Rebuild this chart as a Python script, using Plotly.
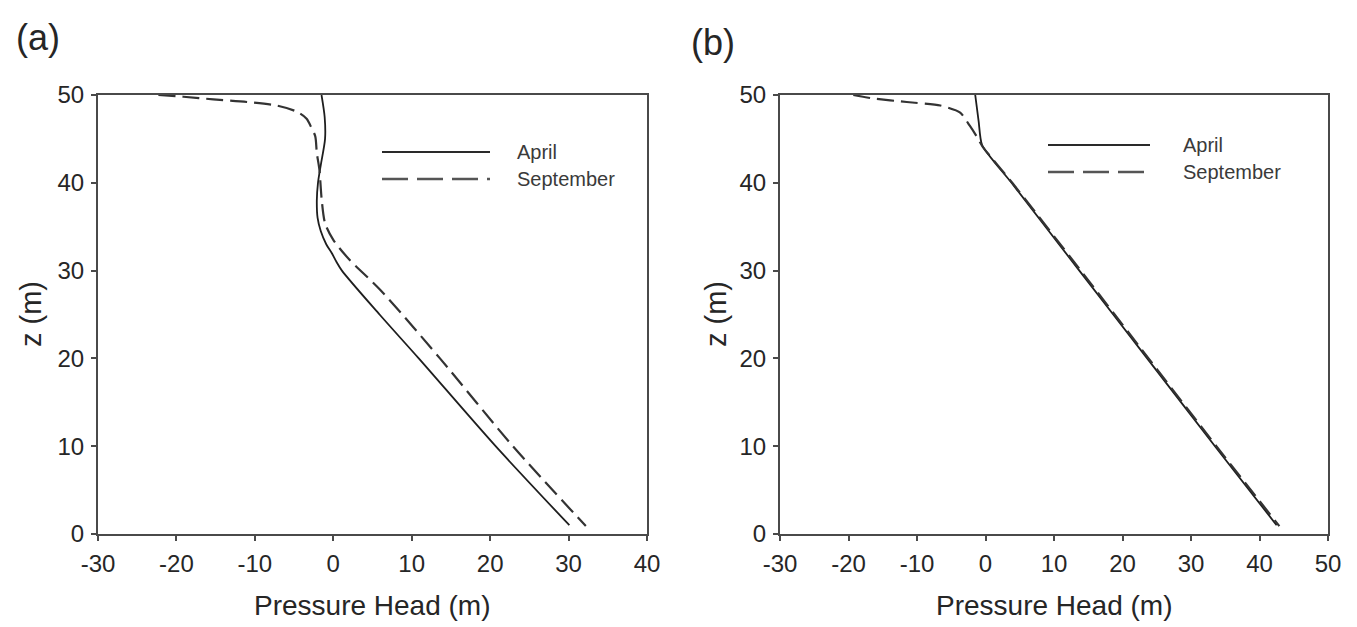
import plotly.graph_objects as go

# Panel (a): pressure head profiles
a_april_z = [50, 47.5, 45, 42, 40, 38, 36, 34.5, 33, 32, 31, 30, 25, 20, 10, 1.0]
a_april_h = [-1.5, -1.1, -1.05, -1.6, -1.95, -2.1, -2.0, -1.6, -0.9, -0.2, 0.4, 1.1, 5.9, 10.9, 20.7, 30.1]
a_sept_z = [50, 49.8, 49.5, 49.2, 48.8, 48.1, 47.3, 46.3, 45.3, 43.4, 41.5, 38, 35.4, 33.5, 31.2, 27.8, 20, 10, 0.9]
a_sept_h = [-22.3, -19.1, -15.3, -11.0, -7.2, -4.65, -3.4, -2.8, -2.3, -2.1, -1.77, -1.47, -1.05, 0.0, 2.1, 6.0, 13.6, 22.9, 32.2]

# Panel (b): pressure head profiles
b_april_z = [50, 47, 44.3, 40, 30, 20, 10, 1.0]
b_april_h = [-1.5, -1.0, -0.5, 3.8, 13.7, 23.6, 33.5, 42.5]
b_sept_z = [50, 49.6, 49.2, 48.8, 48.0, 46.5, 45.3, 44.1, 40, 30, 20, 10, 0.9]
b_sept_h = [-19.3, -16.4, -11.5, -6.6, -3.7, -2.3, -1.3, -0.4, 3.9, 13.9, 23.8, 33.7, 42.9]

series_names = ["April", "September"]
panel_labels = ["(a)", "(b)"]
y_ticks = [0, 10, 20, 30, 40, 50]
a_x_ticks = [-30, -20, -10, 0, 10, 20, 30, 40]
b_x_ticks = [-30, -20, -10, 0, 10, 20, 30, 40, 50]

W, H = 1357, 627
FONT = "Arial, 'Liberation Sans', Helvetica, sans-serif"
INK = "#262626"
FRAME = "#4a4a4a"


def px(x):
    return x / W


def py(y):
    return 1 - y / H


fig = go.Figure()

solid = dict(color="#1e1e1e", width=1.8)
dashed = dict(color="#333333", width=2.2, dash="17px,7px")

fig.add_trace(go.Scatter(x=a_april_h, y=a_april_z, mode="lines", line=dict(shape="spline", smoothing=0.8, **solid),
                         xaxis="x", yaxis="y", showlegend=False, name=series_names[0]))
fig.add_trace(go.Scatter(x=a_sept_h, y=a_sept_z, mode="lines", line=dict(shape="spline", smoothing=0.8, **dashed),
                         xaxis="x", yaxis="y", showlegend=False, name=series_names[1]))
fig.add_trace(go.Scatter(x=b_april_h, y=b_april_z, mode="lines", line=dict(shape="spline", smoothing=0.6, **solid),
                         xaxis="x2", yaxis="y2", showlegend=False, name=series_names[0]))
fig.add_trace(go.Scatter(x=b_sept_h, y=b_sept_z, mode="lines", line=dict(shape="spline", smoothing=0.6, **dashed),
                         xaxis="x2", yaxis="y2", showlegend=False, name=series_names[1]))

ydom = [py(534), py(95)]
axis_common = dict(
    showline=True, linecolor=FRAME, linewidth=2, mirror=True,
    ticks="outside", ticklen=5, tickwidth=1.5, tickcolor=FRAME,
    showgrid=False, zeroline=False, automargin=False,
    tickfont=dict(family=FONT, size=24, color=INK),
)

fig.update_layout(
    width=W, height=H,
    margin=dict(l=0, r=0, t=0, b=0),
    paper_bgcolor="white", plot_bgcolor="white",
    font=dict(family=FONT, color=INK),
    xaxis=dict(domain=[px(98), px(647)], range=[-30, 40], tickvals=a_x_ticks,
               ticktext=[str(v) for v in a_x_ticks], anchor="y", ticklabelstandoff=2, **axis_common),
    yaxis=dict(domain=ydom, range=[0, 50], tickvals=y_ticks,
               ticktext=[str(v) for v in y_ticks], anchor="x", ticklabelstandoff=2, **axis_common),
    xaxis2=dict(domain=[px(780), px(1328)], range=[-30, 50], tickvals=b_x_ticks,
                ticktext=[str(v) for v in b_x_ticks], anchor="y2", ticklabelstandoff=2, **axis_common),
    yaxis2=dict(domain=ydom, range=[0, 50], tickvals=y_ticks,
                ticktext=[str(v) for v in y_ticks], anchor="x2", ticklabelstandoff=2, **axis_common),
)

annotations = []


def label(text, x, y, size, anchor="center", angle=0, color=INK):
    annotations.append(dict(text=text, x=px(x), y=py(y), xref="paper", yref="paper",
                            xanchor=anchor, yanchor="middle", textangle=angle, showarrow=False,
                            font=dict(size=size, family=FONT, color=color)))


# Panel labels
label(panel_labels[0], 38, 38, 36)
label(panel_labels[1], 713, 42, 36)
# Axis titles
for cx in (372, 1054):
    label("Pressure Head (m)", cx, 605, 28)
for cx in (31, 716):
    label("z (m)", cx, 314, 29, angle=-90)

# Legend keys drawn as shapes with text labels
shapes = []
legend_spots = [
    # (line x0, line x1, text x, april y, sept y)
    (382, 490, 515, 152, 179),
    (1048, 1150, 1181, 145, 172),
]
for x0, x1, tx, ya, ys in legend_spots:
    shapes.append(dict(type="line", xref="paper", yref="paper", x0=px(x0), x1=px(x1), y0=py(ya), y1=py(ya),
                       line=dict(color="#2a2a2a", width=2)))
    shapes.append(dict(type="line", xref="paper", yref="paper", x0=px(x0), x1=px(x1), y0=py(ys), y1=py(ys),
                       line=dict(color="#555555", width=2.5, dash="26px,9px")))
    label(series_names[0], tx, ya, 20, anchor="left", color="#3a3a3a")
    label(series_names[1], tx, ys, 20, anchor="left", color="#3a3a3a")

fig.update_layout(annotations=annotations, shapes=shapes)

fig.write_html("out.html")
